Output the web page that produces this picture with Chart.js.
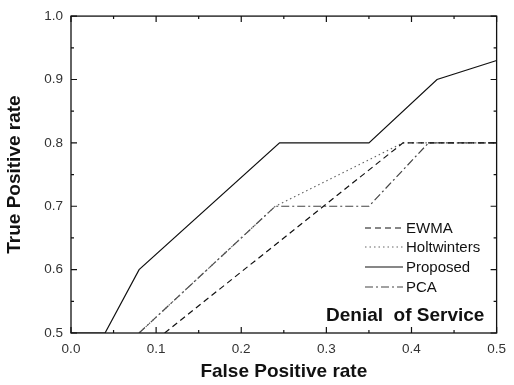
<!DOCTYPE html>
<html>
<head>
<meta charset="utf-8">
<script src="https://cdn.jsdelivr.net/npm/chart.js@4/dist/chart.umd.min.js"></script>
<style>
  html, body { margin: 0; padding: 0; background: #fff; }
  #wrap { width: 514px; height: 385px; }
</style>
</head>
<body>
<div id="wrap"><canvas id="roc"></canvas></div>
<script>
// ROC points
const ewmaX = [0.11, 0.39, 0.5];
const ewmaY = [0.5, 0.8, 0.8];
const holtX = [0.08, 0.24, 0.39, 0.5];
const holtY = [0.5, 0.7, 0.8, 0.8];
const propX = [0.0, 0.04, 0.08, 0.245, 0.35, 0.43, 0.5];
const propY = [0.5, 0.5, 0.6, 0.8, 0.8, 0.9, 0.93];
const pcaX = [0.08, 0.24, 0.35, 0.42, 0.5];
const pcaY = [0.5, 0.7, 0.7, 0.8, 0.8];

const xTicks = [0.0, 0.1, 0.2, 0.3, 0.4, 0.5];
const yTicks = [0.5, 0.6, 0.7, 0.8, 0.9, 1.0];

const FONT = '"Liberation Sans", Arial, sans-serif';

function pts(xs, ys) {
    return xs.map((x, i) => ({x: x, y: ys[i]}));
}

function series(label, xs, ys, color, dash) {
    return {
        label: label,
        data: pts(xs, ys),
        borderColor: color,
        borderWidth: 1.2,
        borderDash: dash,
        pointRadius: 0,
        showLine: true,
        fill: false,
        tension: 0
    };
}

// Inward ticks on all four sides, frame, inside legend and caption
const decorations = {
    id: 'decorations',
    afterDraw(chart) {
        const ctx = chart.ctx;
        const a = chart.chartArea;
        const xs = chart.scales.x, ys = chart.scales.y;
        ctx.save();
        ctx.strokeStyle = '#111';
        ctx.lineWidth = 1.3;
        ctx.strokeRect(a.left, a.top, a.right - a.left, a.bottom - a.top);

        ctx.lineWidth = 1.2;
        ctx.beginPath();
        for (let v = 0; v <= 10; v++) {
            const val = v * 0.05;
            const px = xs.getPixelForValue(val);
            const len = v % 2 === 0 ? 6 : 3;
            ctx.moveTo(px, a.bottom); ctx.lineTo(px, a.bottom - len);
            ctx.moveTo(px, a.top); ctx.lineTo(px, a.top + len);
        }
        for (let v = 0; v <= 10; v++) {
            const val = 0.5 + v * 0.05;
            const py = ys.getPixelForValue(val);
            const len = v % 2 === 0 ? 6 : 3;
            ctx.moveTo(a.left, py); ctx.lineTo(a.left + len, py);
            ctx.moveTo(a.right, py); ctx.lineTo(a.right - len, py);
        }
        ctx.stroke();

        // legend
        const lx0 = 365, lx1 = 403, tx = 406;
        const rows = [228, 247, 267, 287];
        ctx.font = '15px ' + FONT;
        ctx.textBaseline = 'middle';
        ctx.fillStyle = '#111';
        chart.data.datasets.forEach((ds, i) => {
            ctx.beginPath();
            ctx.strokeStyle = ds.borderColor;
            ctx.lineWidth = ds.borderWidth;
            ctx.setLineDash(ds.borderDash || []);
            ctx.moveTo(lx0, rows[i]);
            ctx.lineTo(lx1, rows[i]);
            ctx.stroke();
            ctx.setLineDash([]);
            ctx.fillText(ds.label, tx, rows[i] + 1);
        });

        ctx.font = 'bold 19px ' + FONT;
        ctx.fillText('Denial  of Service', 326, 316);
        ctx.restore();
    }
};

new Chart(document.getElementById('roc'), {
    type: 'scatter',
    data: {
        datasets: [
            series('EWMA', ewmaX, ewmaY, '#111', [6, 4]),
            series('Holtwinters', holtX, holtY, '#666', [1.5, 3]),
            series('Proposed', propX, propY, '#111', []),
            series('PCA', pcaX, pcaY, '#444', [8, 3, 2, 3])
        ]
    },
    options: {
        responsive: true,
        maintainAspectRatio: false,
        animation: false,
        layout: { padding: { left: 3, right: 9, top: 10, bottom: 2 } },
        plugins: {
            legend: { display: false },
            tooltip: { enabled: false }
        },
        scales: {
            x: {
                type: 'linear',
                min: 0, max: 0.5,
                afterBuildTicks: (s) => { s.ticks = xTicks.map(v => ({value: v})); },
                afterFit: (s) => { s.height = 50; },
                grid: { display: false, drawTicks: false },
                border: { display: false },
                ticks: {
                    padding: 8,
                    color: '#333',
                    font: { family: FONT, size: 13.5 },
                    callback: (v) => v.toFixed(1)
                },
                title: {
                    display: true,
                    text: 'False Positive rate',
                    color: '#111',
                    padding: 0,
                    font: { family: FONT, size: 19, weight: 'bold' }
                }
            },
            y: {
                type: 'linear',
                min: 0.5, max: 1.0,
                afterBuildTicks: (s) => { s.ticks = yTicks.map(v => ({value: v})); },
                afterFit: (s) => { s.width = 68; },
                grid: { display: false, drawTicks: false },
                border: { display: false },
                ticks: {
                    padding: 8,
                    color: '#333',
                    font: { family: FONT, size: 13.5 },
                    callback: (v) => v.toFixed(1)
                },
                title: {
                    display: true,
                    text: 'True Positive rate',
                    color: '#111',
                    padding: 0,
                    font: { family: FONT, size: 19, weight: 'bold' }
                }
            }
        }
    },
    plugins: [decorations]
});
</script>
</body>
</html>
